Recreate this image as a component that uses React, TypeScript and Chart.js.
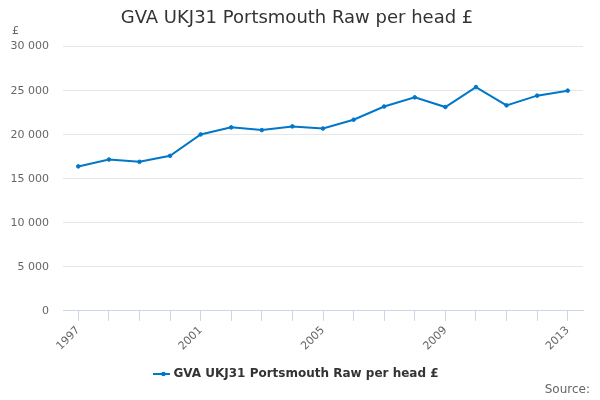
import { useEffect, useRef } from 'react';
import { Chart, registerables } from 'chart.js';

Chart.register(...registerables);

const years = ['1997', '1998', '1999', '2000', '2001', '2002', '2003', '2004', '2005', '2006', '2007', '2008', '2009', '2010', '2011', '2012', '2013'];
const gvaPerHead = [16400, 17180, 16920, 17600, 20030, 20830, 20520, 20940, 20700, 21700, 23200, 24240, 23140, 25400, 23330, 24430, 25000];
const seriesName = 'GVA UKJ31 Portsmouth Raw per head £';
const FONT = '"DejaVu Sans", sans-serif';
const LINE = '#0077c8';

const fmt = (v: number) => String(v).replace(/\B(?=(\d{3})+(?!\d))/g, ' ');

// extra text: the "£" axis title, "Source:" and the dot on the legend marker
const extras = {
  id: 'extras',
  afterDraw(chart: Chart) {
    const ctx = chart.ctx;
    ctx.save();
    ctx.fillStyle = '#666666';
    ctx.font = `11px ${FONT}`;
    ctx.textBaseline = 'middle';
    ctx.textAlign = 'left';
    ctx.fillText('£', 12, 31);
    ctx.font = `12px ${FONT}`;
    ctx.textAlign = 'right';
    ctx.fillText('Source:', 590, 390);
    const boxes = (chart.legend as any)?.legendHitBoxes;
    if (boxes && boxes[0]) {
      const b = boxes[0];
      ctx.fillStyle = LINE;
      ctx.beginPath();
      ctx.arc(b.left + 8, b.top + b.height / 2, 2.3, 0, Math.PI * 2);
      ctx.fill();
    }
    ctx.restore();
  },
};

export default function App() {
  const chartRef = useRef<HTMLCanvasElement>(null);
  const chartInstance = useRef<Chart | null>(null);

  useEffect(() => {
    if (!chartRef.current) return;
    if (chartInstance.current) chartInstance.current.destroy();

    chartInstance.current = new Chart(chartRef.current, {
      type: 'line',
      data: {
        labels: years,
        datasets: [{
          label: seriesName,
          data: gvaPerHead,
          borderColor: LINE,
          backgroundColor: LINE,
          borderWidth: 2,
          pointRadius: 1.8,
          pointBorderWidth: 1,
          pointHoverRadius: 3,
          tension: 0,
        }],
      },
      options: {
        animation: false,
        responsive: true,
        maintainAspectRatio: false,
        layout: { padding: { left: 11, right: 17, top: 4, bottom: 10 } },
        plugins: {
          title: {
            display: true,
            text: seriesName,
            color: '#333333',
            font: { family: FONT, size: 18, weight: 'normal' },
            padding: { top: 4, bottom: 17 },
          },
          legend: {
            position: 'bottom',
            labels: {
              usePointStyle: true,
              pointStyle: 'line',
              boxWidth: 16,
              color: '#333333',
              font: { family: FONT, size: 12, weight: 'bold' },
              padding: 12,
              generateLabels: (chart: Chart) =>
                Chart.defaults.plugins.legend.labels
                  .generateLabels(chart)
                  .map((l) => ({ ...l, lineWidth: 2, strokeStyle: LINE })),
            },
          },
          tooltip: { enabled: false },
        },
        scales: {
          x: {
            offset: true,
            grid: { drawOnChartArea: false, color: '#ccd6eb', tickLength: 10 },
            border: { color: '#ccd6eb' },
            ticks: {
              autoSkip: false,
              maxRotation: 45,
              minRotation: 45,
              color: '#666666',
              font: { family: FONT, size: 11 },
              callback: (_v, i) => (i % 4 === 0 ? years[i] : ''),
            },
          },
          y: {
            min: 0,
            max: 30000,
            grid: { color: '#e6e6e6', drawTicks: false },
            border: { display: false },
            afterFit: (scale: any) => {
              scale.width = 52;
            },
            ticks: {
              stepSize: 5000,
              padding: 14,
              color: '#666666',
              font: { family: FONT, size: 11 },
              callback: (v) => fmt(Number(v)),
            },
          },
        },
      },
      plugins: [extras],
    });

    return () => {
      if (chartInstance.current) {
        chartInstance.current.destroy();
        chartInstance.current = null;
      }
    };
  }, []);

  return (
    <div style={{ position: 'absolute', left: 0, top: 0, width: 600, height: 400, background: '#fff' }}>
      <canvas ref={chartRef}></canvas>
    </div>
  );
}
